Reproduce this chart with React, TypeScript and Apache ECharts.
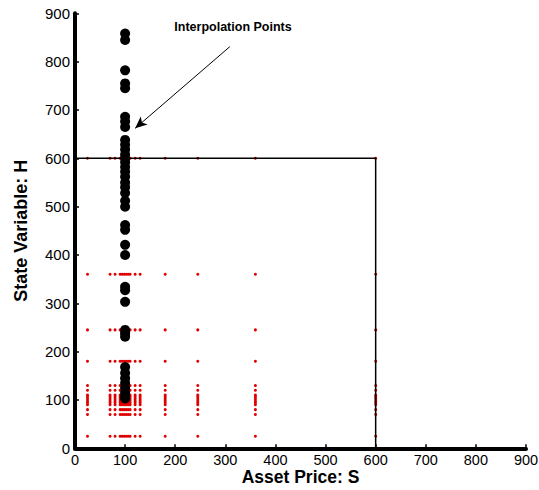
import React, { useEffect, useRef } from "react";
import * as echarts from "echarts";

// Grid nodes (asset price S and state variable H)
const gridS = [25, 70, 80, 90, 94, 98, 102, 106, 110, 120, 130, 180, 245, 360, 600];
const gridH = [25, 70, 80, 90, 94, 98, 102, 106, 110, 120, 130, 180, 245, 360, 600];

// Interpolation points (S = 100)
const interpS = 100;
const interpH = [
  858, 845, 782, 755, 745, 686, 676, 665, 638, 628, 618, 608, 600, 592, 582,
  572, 562, 550, 540, 528, 512, 500, 462, 452, 421, 400, 334, 327, 303, 245,
  238, 231, 168, 156, 145, 135, 125, 115, 108, 103,
];

// Boundary path
const boundary = [
  [0, 600],
  [600, 600],
  [600, 0],
];

// Annotation arrow (from, to)
const arrowFrom = [309, 831];
const arrowTo = [120, 662];
const annotationText = "Interpolation Points";

const xTicks = [0, 900, 100];
const yTicks = [0, 900, 100];

export default function App() {
  const ref = useRef<HTMLDivElement>(null);
  useEffect(() => {
    if (!ref.current) return;
    const chart = echarts.init(ref.current, null, { renderer: "svg" });
    const gridData: number[][] = [];
    for (const s of gridS) for (const h of gridH) gridData.push([s, h]);
    const interpData = interpH.map((h) => [interpS, h]);
    const font = "'Liberation Sans', Arial, sans-serif";
    chart.setOption({
      animation: false,
      backgroundColor: "#ffffff",
      grid: {
        left: 75,
        right: 13,
        top: 13.3,
        bottom: 41.7,
        containLabel: false,
        outerBoundsMode: "none",
      },
      xAxis: {
        type: "value",
        min: xTicks[0],
        max: xTicks[1],
        interval: xTicks[2],
        name: "Asset Price: S",
        nameLocation: "middle",
        nameGap: 20,
        nameMoveOverlap: false,
        nameTextStyle: { fontFamily: font, fontWeight: "bold", fontSize: 17.5, lineHeight: 18, color: "#000" },
        axisLine: { lineStyle: { color: "#000", width: 4 } },
        axisTick: { inside: true, length: 4, lineStyle: { color: "#000", width: 1.5 } },
        axisLabel: { fontFamily: font, fontSize: 14.5, lineHeight: 15, color: "#000", margin: 4 },
        splitLine: { show: false },
      },
      yAxis: {
        type: "value",
        min: yTicks[0],
        max: yTicks[1],
        interval: yTicks[2],
        name: "State Variable: H",
        nameLocation: "middle",
        nameGap: 45,
        nameTextStyle: { fontFamily: font, fontWeight: "bold", fontSize: 18, color: "#000" },
        axisLine: { lineStyle: { color: "#000", width: 4 } },
        axisTick: { inside: true, length: 4, lineStyle: { color: "#000", width: 1.5 } },
        axisLabel: { fontFamily: font, fontSize: 15, color: "#000", margin: 5 },
        splitLine: { show: false },
      },
      series: [
        {
          type: "scatter",
          data: gridData,
          symbol: "circle",
          symbolSize: 3,
          itemStyle: { color: "#e00000", opacity: 1 },
          z: 2,
        },
        {
          type: "line",
          data: boundary,
          symbol: "none",
          lineStyle: { color: "#000", width: 1.5 },
          z: 3,
        },
        {
          type: "scatter",
          data: interpData,
          symbol: "circle",
          symbolSize: 10,
          itemStyle: { color: "#000", opacity: 1 },
          z: 4,
          markLine: {
            silent: true,
            symbol: ["none", "arrow"],
            symbolSize: [8, 12],
            label: { show: false },
            lineStyle: { color: "#000", width: 1, type: "solid" },
            data: [[{ coord: arrowFrom }, { coord: arrowTo }]],
          },
        },
      ],
      graphic: [
        {
          type: "text",
          x: 233,
          y: 27,
          style: {
            text: annotationText,
            fontFamily: font,
            fontWeight: "bold",
            fontSize: 12.5,
            fill: "#000",
            align: "center",
            verticalAlign: "middle",
          },
        },
      ],
    });
    return () => chart.dispose();
  }, []);
  return (
    <div
      ref={ref}
      style={{ position: "absolute", left: 0, top: 0, width: 539, height: 490 }}
    />
  );
}
